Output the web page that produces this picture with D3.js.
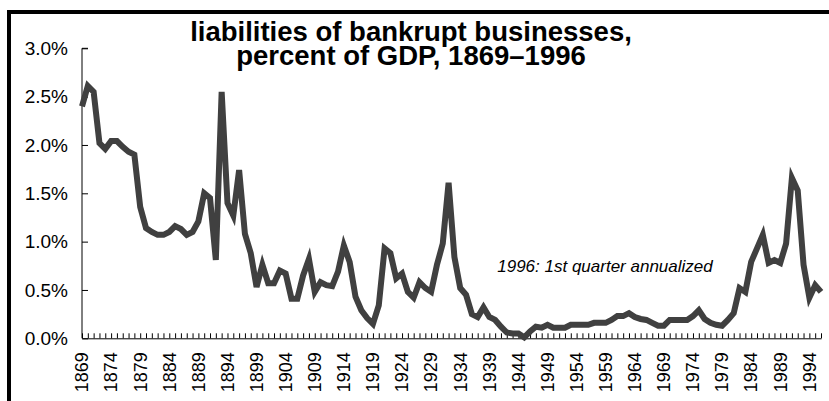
<!DOCTYPE html>
<html>
<head>
<meta charset="utf-8">
<script src="https://cdn.jsdelivr.net/npm/d3@7"></script>
<style>
    body { margin: 0; background: #fff; }
    svg { display: block; }
    text { font-family: "Liberation Sans", Arial, sans-serif; fill: #000; }
</style>
</head>
<body>
<svg id="chart" width="829" height="401"></svg>
<script>
// liabilities of bankrupt businesses as % of GDP, one value per year
const years = d3.range(1869, 1997);
const liabilities = [
    2.40, 2.61, 2.55, 2.02, 1.96, 2.04, 2.04, 1.98, 1.93, 1.90,   // 1869-1878
    1.36, 1.14, 1.10, 1.07, 1.07, 1.10, 1.16, 1.13, 1.07, 1.10,   // 1879-1888
    1.21, 1.50, 1.45, 0.81, 2.55, 1.40, 1.27, 1.74, 1.08, 0.88,   // 1889-1898
    0.53, 0.76, 0.57, 0.57, 0.70, 0.67, 0.41, 0.41, 0.65, 0.82,   // 1899-1908
    0.48, 0.58, 0.55, 0.54, 0.69, 0.96, 0.79, 0.43, 0.29, 0.21,   // 1909-1918
    0.15, 0.34, 0.93, 0.88, 0.62, 0.67, 0.48, 0.42, 0.58, 0.52,   // 1919-1928
    0.48, 0.76, 0.98, 1.61, 0.84, 0.52, 0.45, 0.25, 0.22, 0.32,   // 1929-1938
    0.22, 0.19, 0.12, 0.06, 0.05, 0.05, 0.01, 0.07, 0.12, 0.11,   // 1939-1948
    0.14, 0.11, 0.11, 0.11, 0.14, 0.14, 0.14, 0.14, 0.16, 0.16,   // 1949-1958
    0.16, 0.19, 0.23, 0.23, 0.26, 0.22, 0.20, 0.19, 0.16, 0.13,   // 1959-1968
    0.13, 0.19, 0.19, 0.19, 0.19, 0.23, 0.29, 0.20, 0.16, 0.14,   // 1969-1978
    0.13, 0.19, 0.26, 0.52, 0.48, 0.79, 0.93, 1.07, 0.78, 0.81,   // 1979-1988
    0.78, 0.98, 1.66, 1.53, 0.76, 0.42, 0.55, 0.48                // 1989-1996
];
const yTicks = [0, 0.5, 1.0, 1.5, 2.0, 2.5, 3.0];
const yearLabels = d3.range(1869, 1997, 5);
const titleLines = ["liabilities of bankrupt businesses,", "percent of GDP, 1869\u20131996"];
const note = "1996: 1st quarter annualized";

const svg = d3.select("#chart");

const x = d3.scaleLinear().domain([1869, 1996]).range([82, 821]);
const y = d3.scaleLinear().domain([0, 3]).range([338.3, 48.3]);

// black frame, only top and left edges show inside the picture
svg.append("rect")
    .attr("x", 9)
    .attr("y", 12)
    .attr("width", 900)
    .attr("height", 500)
    .attr("fill", "none")
    .attr("stroke", "#000")
    .attr("stroke-width", 4);

// title
svg.append("g")
    .selectAll("text")
    .data(titleLines)
    .join("text")
    .attr("x", 411)
    .attr("y", (d, i) => 41 + i * 24)
    .attr("text-anchor", "middle")
    .attr("font-size", 27.5)
    .attr("font-weight", 900)
    .text(d => d);

// y axis, ticks point inward
const yAxis = svg.append("g")
    .attr("transform", "translate(" + x(1869) + ",0)")
    .call(d3.axisRight(y)
        .tickValues(yTicks)
        .tickSize(6)
        .tickFormat(d => d3.format(".1f")(d) + "%"));
yAxis.select(".domain").attr("d", "M6," + y(3) + "H0V" + y(0)).attr("stroke", "#000");
yAxis.selectAll("line").attr("stroke", "#000");
yAxis.selectAll("text")
    .attr("x", -14)
    .attr("text-anchor", "end")
    .attr("font-size", 19)
    .attr("font-family", "Liberation Sans, Arial, sans-serif")
    .attr("fill", "#111");

// x axis: a small upward tick for every year
const xAxis = svg.append("g")
    .attr("transform", "translate(0," + y(0) + ")")
    .call(d3.axisTop(x)
        .tickValues(years)
        .tickSize(5)
        .tickSizeOuter(0)
        .tickFormat(""));
xAxis.select(".domain").attr("stroke", "#000");
xAxis.selectAll("line").attr("stroke", "#000");

// rotated year labels every five years
svg.append("g")
    .selectAll("text")
    .data(yearLabels)
    .join("text")
    .attr("transform", d => "translate(" + x(d) + "," + (y(0) + 14) + ") rotate(-90)")
    .attr("dy", "0.35em")
    .attr("text-anchor", "end")
    .attr("font-size", 18)
    .attr("fill", "#111")
    .text(d => d);

// the series
const line = d3.line()
    .x((d, i) => x(years[i]))
    .y(d => y(d));

svg.append("path")
    .datum(liabilities)
    .attr("d", line)
    .attr("fill", "none")
    .attr("stroke", "#404040")
    .attr("stroke-width", 6)
    .attr("stroke-linejoin", "miter");

// note
svg.append("text")
    .attr("x", 605)
    .attr("y", 272)
    .attr("text-anchor", "middle")
    .attr("font-size", 17)
    .attr("font-style", "italic")
    .attr("fill", "#222")
    .text(note);
</script>
</body>
</html>
